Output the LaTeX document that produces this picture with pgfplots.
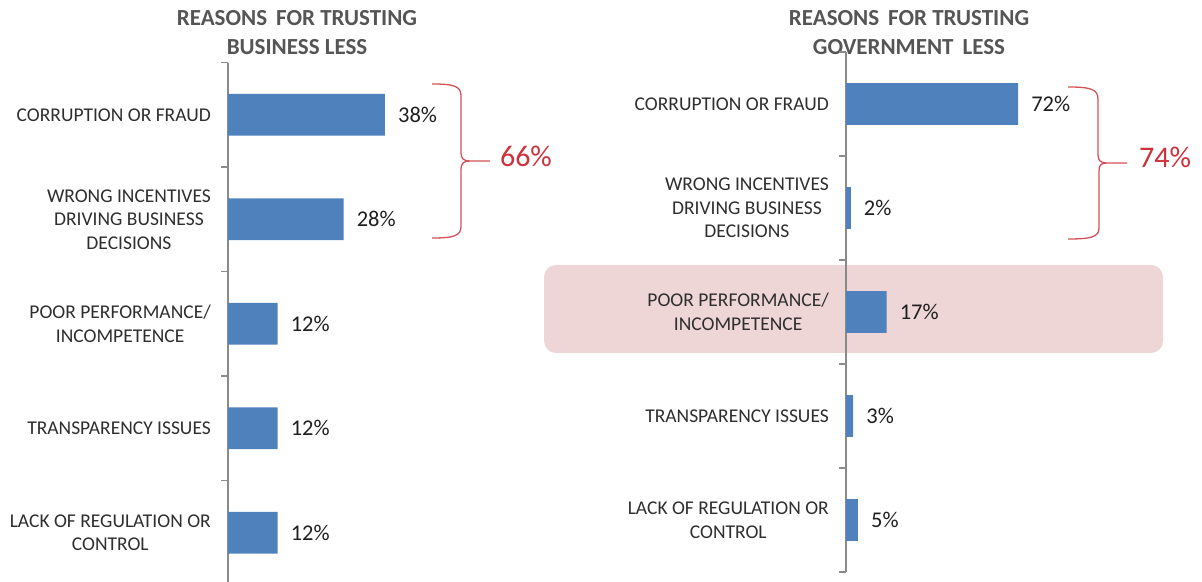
\documentclass[border=0pt]{standalone}
\usepackage{pgfplots}
\pgfplotsset{compat=1.18}
\usepackage{fontspec}
\setmainfont{Carlito}
\definecolor{barblue}{HTML}{4F81BD}
\definecolor{bred}{RGB}{205,50,60}
\definecolor{pinkbox}{HTML}{EFD6D6}
\definecolor{axisgray}{HTML}{8A8A8A}
\definecolor{labgray}{HTML}{2E2E2E}
\definecolor{titlegray}{HTML}{555555}
\pgfplotsset{
  panel/.style={
    scale only axis, xbar, bar width=0.4, y dir=reverse,
    xmin=0, ymin=-0.5, ymax=4.5,
    hide x axis, axis y line*=left,
    y axis line style={axisgray, line width=1.2pt, -},
    ytick={0,1,2,3,4}, major tick length=0pt,
    extra y ticks={-0.5,0.5,1.5,2.5,3.5,4.5}, extra y tick labels={},
    extra y tick style={major tick length=7pt, tick align=outside,
      tick style={axisgray, line width=1.2pt}},
    yticklabel style={align=center, font=\fontsize{19.5}{23.5}\selectfont,
      text=labgray, inner sep=0pt, xshift=-17pt},
    yticklabels={CORRUPTION OR FRAUD, {WRONG INCENTIVES\\DRIVING BUSINESS\\DECISIONS},
      {POOR PERFORMANCE/\\INCOMPETENCE}, TRANSPARENCY ISSUES,
      {LACK OF REGULATION OR\\CONTROL}},
    point meta=x,
    nodes near coords={\pgfmathprintnumber[assume math mode=true]{\pgfplotspointmeta}\%},
    nodes near coords style={anchor=west, inner sep=0pt, xshift=13pt,
      font=\fontsize{22.5}{24}\selectfont, text=black!88},
    clip=false,
  }
}
\begin{document}
\begin{tikzpicture}[x=1pt,y=1pt]
\path[use as bounding box] (0,0) rectangle (1202,581);
% highlight box
\fill[pinkbox, rounded corners=12pt] (544,228) rectangle (1163,316);
% titles
\node[align=center, font=\bfseries\fontsize{23}{29}\selectfont, text=titlegray]
  at (297,548) {REASONS\ \,FOR TRUSTING\\BUSINESS LESS};
\node[align=center, font=\bfseries\fontsize{23}{29}\selectfont, text=titlegray]
  at (909,548) {REASONS\ \,FOR TRUSTING\\GOVERNMENT\,\ LESS};
% left panel
\begin{axis}[panel, at={(228pt,-4pt)}, anchor=south west,
  width=247.8pt, height=522.5pt, xmax=60]
\addplot[fill=barblue, draw=none] coordinates {(38,0) (28,1) (12,2) (12,3) (12,4)};
\end{axis}
% right panel
\begin{axis}[panel, at={(846pt,9pt)}, anchor=south west,
  width=239pt, height=520pt, xmax=100]
\addplot[fill=barblue, draw=none] coordinates {(72,0) (2,1) (17,2) (3,3) (5,4)};
\end{axis}
% braces
\draw[bred!85, line width=1.3pt, line join=round]
  (432,497) .. controls (454,497) and (461,495) .. (461,485)
  -- (461,428) .. controls (461,422) and (464,420) .. (470,420) -- (490,420)
  (470,420) .. controls (464,420) and (461,418) .. (461,412)
  -- (461,355) .. controls (461,345) and (454,343) .. (432,343);
\node[text=bred, font=\fontsize{30}{31}\selectfont] at (526,425) {66\%};
\draw[bred!85, line width=1.3pt, line join=round]
  (1068,494) .. controls (1090,494) and (1098,492) .. (1098,482)
  -- (1098,426) .. controls (1098,420) and (1101,418) .. (1107,418) -- (1127,418)
  (1107,418) .. controls (1101,418) and (1099,416) .. (1099,410)
  -- (1099,353) .. controls (1099,344) and (1091,342) .. (1068,342);
\node[text=bred, font=\fontsize{30}{31}\selectfont] at (1165,424) {74\%};
\end{tikzpicture}
\end{document}
